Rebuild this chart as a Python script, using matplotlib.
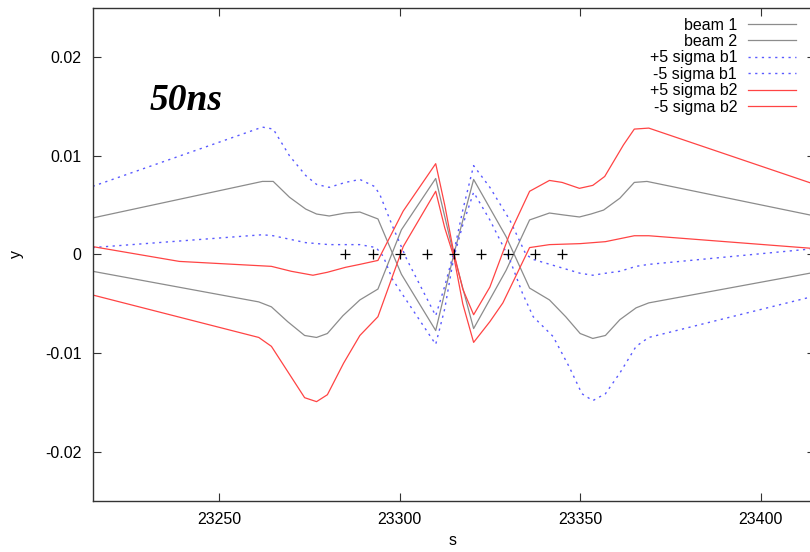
import matplotlib
matplotlib.use('Agg')
import matplotlib.pyplot as plt

plt.rcParams['font.family'] = ['Liberation Sans', 'DejaVu Sans']

# closed orbit of both beams around the IP
beam1_s = [23215, 23262, 23265, 23269.5, 23274, 23277, 23280.5, 23285, 23289, 23294,
           23300.5, 23310, 23315, 23320.5, 23329.5, 23336, 23341.5, 23346, 23350,
           23353.5, 23357, 23361, 23365.5, 23369, 23415]
beam1_y = [0.0037, 0.0074, 0.0074, 0.0058, 0.0046, 0.0041, 0.0039, 0.0042, 0.0043, 0.0036,
           -0.0020, -0.0077, 0.0000, 0.0076, 0.0018, -0.0034, -0.0046, -0.0063, -0.0080,
           -0.0085, -0.0082, -0.0066, -0.0054, -0.0049, -0.0018]

beam2_s = [23215, 23261, 23264.5, 23269, 23273.7, 23277, 23280, 23284.3, 23289, 23294,
           23300.5, 23310, 23315, 23320.5, 23329.5, 23336, 23341.5, 23345.5, 23349.8,
           23353, 23356.5, 23361, 23365, 23368.5, 23415]
beam2_y = [-0.0017, -0.0048, -0.0053, -0.0068, -0.0082, -0.0084, -0.0080, -0.0062, -0.0046, -0.0035,
           0.0025, 0.0077, 0.0000, -0.0075, -0.0016, 0.0035, 0.0042, 0.0040, 0.0038,
           0.0041, 0.0045, 0.0057, 0.0073, 0.0074, 0.0039]

# 5 sigma envelopes
b1_plus_s = [23215, 23262, 23265, 23269.5, 23274, 23277, 23280.5, 23285, 23289, 23293,
             23294.5, 23298, 23302, 23310, 23312.5, 23315, 23317.5, 23320.5, 23325, 23330.5,
             23335, 23337, 23343.5, 23350, 23353.5, 23357, 23361, 23365.5, 23369, 23415]
b1_plus_y = [0.0069, 0.0129, 0.0127, 0.0100, 0.0080, 0.0071, 0.0068, 0.0073, 0.0076, 0.0069,
             0.0061, 0.0029, -0.0005, -0.0062, -0.0032, 0.0002, 0.0045, 0.0090, 0.0068, 0.0035,
             0.0000, -0.0005, -0.0012, -0.0019, -0.0021, -0.0019, -0.0017, -0.0012, -0.0010, 0.0006]

b1_minus_s = [23215, 23262, 23265, 23274, 23280.5, 23289, 23293.5, 23295.5, 23298, 23310,
              23312.5, 23315, 23317.5, 23320.5, 23325, 23330.5, 23334, 23337, 23342.5, 23347,
              23350.5, 23353.5, 23357, 23361, 23365.5, 23369, 23415]
b1_minus_y = [0.0007, 0.0020, 0.0019, 0.0012, 0.0010, 0.0010, 0.0007, -0.0002, -0.0025, -0.0091,
              -0.0055, -0.0003, 0.0030, 0.0063, 0.0035, -0.0005, -0.0039, -0.0063, -0.0083, -0.0114,
              -0.0141, -0.0148, -0.0141, -0.0120, -0.0093, -0.0084, -0.0042]

b2_plus_s = [23215, 23239, 23264.5, 23270, 23276, 23280, 23285, 23289, 23294, 23301,
             23310, 23312.5, 23315, 23317.5, 23320.5, 23325, 23330.5, 23336, 23341.5, 23345,
             23349.8, 23353.5, 23356.8, 23362, 23365, 23369, 23415]
b2_plus_y = [0.0008, -0.0007, -0.0012, -0.0017, -0.0021, -0.0018, -0.0013, -0.0010, -0.0006, 0.0044,
             0.0092, 0.0050, 0.0002, -0.0035, -0.0061, -0.0033, 0.0021, 0.0064, 0.0075, 0.0073,
             0.0067, 0.0070, 0.0079, 0.0111, 0.0127, 0.0128, 0.0071]

b2_minus_s = [23215, 23261, 23264.5, 23273.7, 23277, 23280, 23284.5, 23289, 23294, 23301,
              23310, 23312.5, 23315, 23317.5, 23320.5, 23325, 23328.6, 23336, 23341.5, 23350,
              23357, 23361, 23365, 23369, 23415]
b2_minus_y = [-0.0041, -0.0084, -0.0093, -0.0145, -0.0149, -0.0142, -0.0110, -0.0082, -0.0063, 0.0008,
              0.0064, 0.0027, -0.0002, -0.0050, -0.0089, -0.0068, -0.0049, 0.0007, 0.0010, 0.0011,
              0.0013, 0.0016, 0.0019, 0.0019, 0.0006]

# parasitic encounter positions
enc_s = [23285, 23292.5, 23300, 23307.5, 23315, 23322.5, 23330, 23337.5, 23345]
enc_y = [0, 0, 0, 0, 0, 0, 0, 0, 0]

gray = '#8c8c8c'
blue = '#5a5aff'
red = '#ff4444'
dots = (0, (1.6, 3.2))

fig = plt.figure(figsize=(8.1, 5.52), dpi=100)
ax = fig.add_axes([0.1144, 0.0917, 0.8916, 0.8945])

ax.plot(beam1_s, beam1_y, color=gray, lw=0.9, label='beam 1')
ax.plot(beam2_s, beam2_y, color=gray, lw=0.9, label='beam 2')
ax.plot(b1_plus_s, b1_plus_y, color=blue, lw=1.0, ls=dots, label='+5 sigma b1')
ax.plot(b1_minus_s, b1_minus_y, color=blue, lw=1.0, ls=dots, label='-5 sigma b1')
ax.plot(b2_plus_s, b2_plus_y, color=red, lw=0.9, label='+5 sigma b2')
ax.plot(b2_minus_s, b2_minus_y, color=red, lw=0.9, label='-5 sigma b2')
ax.plot(enc_s, enc_y, ls='none', marker='+', ms=7, mew=0.9, color='black')

ax.set_xlim(23215, 23415)
ax.set_ylim(-0.025, 0.025)
ax.set_xticks([23250, 23300, 23350, 23400])
ax.set_yticks([-0.02, -0.01, 0, 0.01, 0.02])
ax.set_yticklabels(['-0.02', '-0.01', '0', '0.01', '0.02'])
ax.tick_params(direction='in', length=6, width=0.8, top=True, right=True,
               labelsize=11.5, pad=8, color='#333333')
for sp in ax.spines.values():
    sp.set_linewidth(1.0)
    sp.set_color('#333333')

ax.set_xlabel('s', fontsize=11.5)
ax.set_ylabel('y', fontsize=11.5)
ax.xaxis.set_label_coords(0.499, -0.080)
ax.xaxis.label.set_va('center')
ax.yaxis.set_label_coords(-0.106, 0.5)
ax.yaxis.label.set_va('center')

ax.text(0.0793, 0.7926, '50ns', transform=ax.transAxes, fontsize=27,
        family='Liberation Serif', weight='bold', style='italic', va='baseline')

ax.legend(loc='upper right', bbox_to_anchor=(795.7 / 810, 1 - 17.5 / 552),
          bbox_transform=fig.transFigure, frameon=False, markerfirst=False,
          fontsize=11.5, handlelength=2.98, handletextpad=0.69,
          labelspacing=0.09, borderpad=0, borderaxespad=0)

plt.savefig('out.png', dpi=100)
